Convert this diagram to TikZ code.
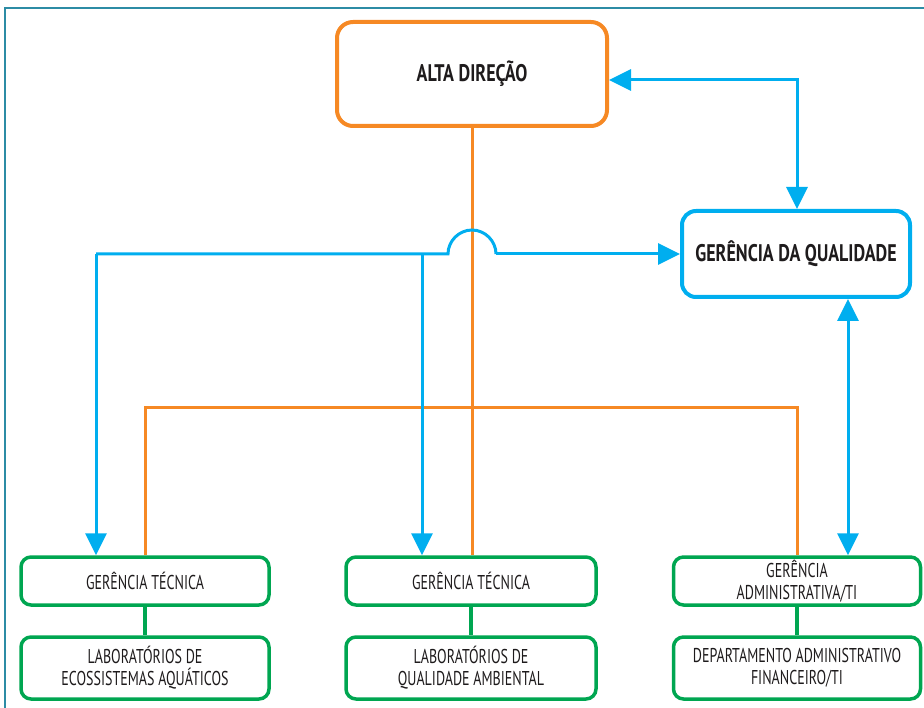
\documentclass[tikz,border=0pt]{standalone}
\usepackage{fontspec}
\setmainfont[FakeStretch=0.7]{PT Sans}
\newfontfamily\bfam[FakeStretch=0.75]{PT Sans}
\usetikzlibrary{arrows.meta}
\definecolor{orgc}{RGB}{246,137,36}
\definecolor{bluc}{RGB}{0,174,239}
\definecolor{grnc}{RGB}{0,166,81}
\definecolor{frmc}{RGB}{44,140,165}
\definecolor{txtc}{RGB}{30,27,28}
\begin{document}
\begin{tikzpicture}[x=1pt,y=-1pt,
  topbox/.style={draw=orgc,line width=4pt,rounded corners=16pt,text=txtc,
    font=\bfam\bfseries\fontsize{24}{26}\selectfont,inner sep=0pt},
  qbox/.style={draw=bluc,line width=4pt,rounded corners=14pt,text=txtc,
    font=\bfam\bfseries\fontsize{24}{26}\selectfont,inner sep=0pt},
  gbox/.style={draw=grnc,line width=3.5pt,rounded corners=10pt,text=txtc,
    font=\fontsize{20}{22}\selectfont,align=center,inner sep=0pt,
    minimum height=48pt},
  lbox/.style={gbox,minimum height=62pt},
  oline/.style={draw=orgc,line width=3pt},
  bline/.style={draw=bluc,line width=3pt},
  gline/.style={draw=grnc,line width=3.5pt},
  barrow/.style={bline,-{Triangle[length=22pt,width=21pt]}},
  bdarrow/.style={bline,{Triangle[length=22pt,width=21pt]}-{Triangle[length=22pt,width=21pt]}},
  frame/.style={draw=frmc,line width=2pt}
]
\useasboundingbox (0,0) rectangle (924,708);
\coordinate (f0) at (5,708);
\coordinate (f1) at (5,8);
\coordinate (f2) at (924,8);
\draw[frame] (f0) -- (f1) -- (f2);

\node[topbox,minimum width=270pt,minimum height=104pt] (alta) at (472,74) {ALTA DIREÇÃO};
\node[qbox,minimum width=228pt,minimum height=86pt] (gq) at (796,254) {GERÊNCIA DA QUALIDADE};

\node[gbox,minimum width=248pt] (gt1) at (145,581) {GERÊNCIA TÉCNICA};
\node[lbox,minimum width=248pt] (lab1) at (145,668) {LABORATÓRIOS DE\\ECOSSISTEMAS AQUÁTICOS};
\node[gbox,minimum width=250pt] (gt2) at (471,581) {GERÊNCIA TÉCNICA};
\node[lbox,minimum width=250pt] (lab2) at (471,668) {LABORATÓRIOS DE\\QUALIDADE AMBIENTAL};
\node[gbox,minimum width=247pt] (ga) at (797,581) {GERÊNCIA\\ADMINISTRATIVA/TI};
\node[lbox,minimum width=247pt] (dept) at (797,668) {DEPARTAMENTO ADMINISTRATIVO\\FINANCEIRO/TI};

% green links
\draw[gline] (gt1) -- (lab1);
\draw[gline] (gt2) -- (lab2);
\draw[gline] (ga) -- (dept);

% orange hierarchy
\coordinate (obL) at (145,408);
\coordinate (obR) at (797,408);
\draw[oline] (alta.south) -- (alta.south |- gt2.north);
\draw[oline] (gt1.north) -- (obL) -- (obR) -- (ga.north);

% blue quality links
\coordinate (bL) at (96,254);
\coordinate (bM) at (422,254);
\coordinate (hA) at (448,254);
\coordinate (hB) at (496,254);
\coordinate (bt) at (797,80);
\coordinate (bv) at (848,300);
\draw[bline] (bL) -- (hA) .. controls (448,241) and (459,230) .. (472,230)
  .. controls (485,230) and (496,241) .. (hB);
\draw[barrow] (hB) -- (gq.west);
\draw[barrow] (bL) -- (bL |- gt1.north);
\draw[barrow] (bM) -- (bM |- gt2.north);
\draw[bdarrow] (alta.east |- bt) -- (bt) -- (bt |- gq.north);
\draw[bdarrow] (bv |- gq.south) -- (bv |- ga.north);
\end{tikzpicture}
\end{document}
